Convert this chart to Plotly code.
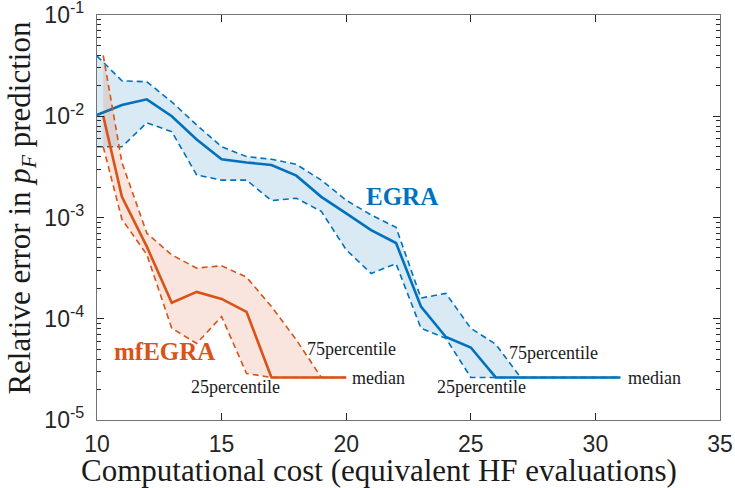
import plotly.graph_objects as go

# ---------------- data ----------------
x_egra = [10, 11, 12, 13, 14, 15, 16, 17, 18, 19, 20, 21, 22, 23, 24, 25, 26, 27, 28, 29, 30, 31]
egra_median = [0.0103, 0.0129, 0.0147, 0.0100, 0.0059, 0.00376, 0.0035, 0.0033, 0.00259, 0.0016,
               0.0011, 7.5e-4, 5.6e-4, 1.32e-4, 6.6e-5, 5.2e-5, 2.63e-5, 2.63e-5, 2.63e-5, 2.63e-5,
               2.63e-5, 2.63e-5]
egra_p75 = [0.0394, 0.0224, 0.0219, 0.0139, 0.0082, 0.0050, 0.0040, 0.00376, 0.00335, 0.00234,
            0.00148, 0.00106, 8.0e-4, 1.6e-4, 1.78e-4, 8.05e-5, 5.6e-5, 2.63e-5, 2.63e-5, 2.63e-5,
            2.63e-5, 2.63e-5]
egra_p25 = [0.005, 0.005, 0.00863, 0.00705, 0.00263, 0.00234, 0.00234, 0.00147, 0.00155, 0.00115,
            4.8e-4, 2.8e-4, 3.5e-4, 8.05e-5, 6.4e-5, 2.63e-5, 2.63e-5, 2.63e-5, 2.63e-5, 2.63e-5,
            2.63e-5, 2.63e-5]

x_mf = [10.25, 11, 12, 13, 14, 15, 16, 17, 18, 19, 20]
mf_median = [0.0101, 1.6e-3, 5.15e-4, 1.44e-4, 1.84e-4, 1.57e-4, 1.17e-4, 2.63e-5, 2.63e-5, 2.63e-5, 2.63e-5]
mf_p75 = [0.0400, 3.5e-3, 7.0e-4, 4.27e-4, 3.16e-4, 3.34e-4, 2.57e-4, 1.32e-4, 6.17e-5, 2.63e-5, 2.63e-5]
mf_p25 = [0.005, 9.6e-4, 4.3e-4, 8.05e-5, 5.7e-5, 1.05e-4, 2.88e-5, 2.63e-5, 2.63e-5, 2.63e-5, 2.63e-5]

x_ticks = [10, 15, 20, 25, 30, 35]
y_ticks = [1e-5, 1e-4, 1e-3, 1e-2, 1e-1]
y_ticktext = ["10<sup>-5</sup>", "10<sup>-4</sup>", "10<sup>-3</sup>", "10<sup>-2</sup>", "10<sup>-1</sup>"]

x_title = "Computational cost (equivalent HF evaluations)"
y_title = "Relative error in <i>p</i><sub><i>F</i></sub> prediction"

BLUE = "#0072BD"
ORANGE = "#D95319"
BLUE_FILL = "rgba(0,114,189,0.15)"
ORANGE_FILL = "rgba(217,83,25,0.15)"
SERIF = "Liberation Serif"
SANS = "Liberation Sans"

fig = go.Figure()


def add_band(x, lo, hi, med, color, fill):
    fig.add_trace(go.Scatter(x=x + x[::-1], y=hi + lo[::-1], fill="toself", fillcolor=fill,
                             line=dict(width=0), mode="lines", hoverinfo="skip", showlegend=False))
    fig.add_trace(go.Scatter(x=x, y=hi, mode="lines", showlegend=False,
                             line=dict(color=color, width=1.6, dash="6px,4px")))
    fig.add_trace(go.Scatter(x=x, y=lo, mode="lines", showlegend=False,
                             line=dict(color=color, width=1.6, dash="6px,4px")))
    fig.add_trace(go.Scatter(x=x, y=med, mode="lines", showlegend=False,
                             line=dict(color=color, width=2.6)))


add_band(x_egra, egra_p25, egra_p75, egra_median, BLUE, BLUE_FILL)
add_band(x_mf, mf_p25, mf_p75, mf_median, ORANGE, ORANGE_FILL)

label_font = dict(family=SERIF, size=18, color="#1a1a1a")
annotations = [
    dict(x=22.23, y=-2.795, text="<b>EGRA</b>", font=dict(family=SERIF, size=25, color=BLUE)),
    dict(x=12.69, y=-4.328, text="<b>mfEGRA</b>", font=dict(family=SERIF, size=25, color=ORANGE)),
    dict(x=20.21, y=-4.299, text="75percentile", font=label_font),
    dict(x=15.54, y=-4.671, text="25percentile", font=label_font),
    dict(x=20.16, y=-4.585, text="median", font=label_font, xanchor="left"),
    dict(x=28.32, y=-4.338, text="75percentile", font=label_font),
    dict(x=25.44, y=-4.671, text="25percentile", font=label_font),
    dict(x=31.23, y=-4.585, text="median", font=label_font, xanchor="left"),
]
for a in annotations:
    a.setdefault("xanchor", "center")
    a.update(xref="x", yref="y", showarrow=False, yanchor="middle")

title_font = dict(family=SERIF, size=31, color="#1a1a1a")
annotations += [
    dict(xref="paper", yref="paper", x=0.4526, y=-0.1235, text=x_title, font=title_font,
         showarrow=False, xanchor="center", yanchor="middle"),
    dict(xref="paper", yref="paper", x=-0.121, y=0.5235, text=y_title, font=title_font,
         showarrow=False, xanchor="center", yanchor="middle", textangle=-90),
]

axis_common = dict(showline=True, linecolor="#737373", linewidth=1.3, mirror="ticks",
                   ticks="inside", ticklen=7, tickwidth=1, tickcolor="#262626",
                   showgrid=False, zeroline=False, automargin=False,
                   ticklabeloverflow="allow",
                   tickfont=dict(family=SANS, size=23, color="#262626"))

fig.update_layout(
    width=735, height=488,
    margin=dict(l=97, r=15, t=15, b=68),
    paper_bgcolor="white", plot_bgcolor="white",
    annotations=annotations,
    xaxis=dict(range=[10, 35], tickmode="array", tickvals=x_ticks,
               ticklabelstandoff=3, **axis_common),
    yaxis=dict(type="log", range=[-5.0005, -0.9995], tickmode="array", tickvals=y_ticks,
               ticktext=y_ticktext,
               minor=dict(ticks="inside", ticklen=4, dtick="D1", tickcolor="#262626", showgrid=False),
               ticklabelstandoff=7, **axis_common),
)

fig.write_html("out.html", config={"displayModeBar": False},
               post_script="document.body.style.margin='0';")
